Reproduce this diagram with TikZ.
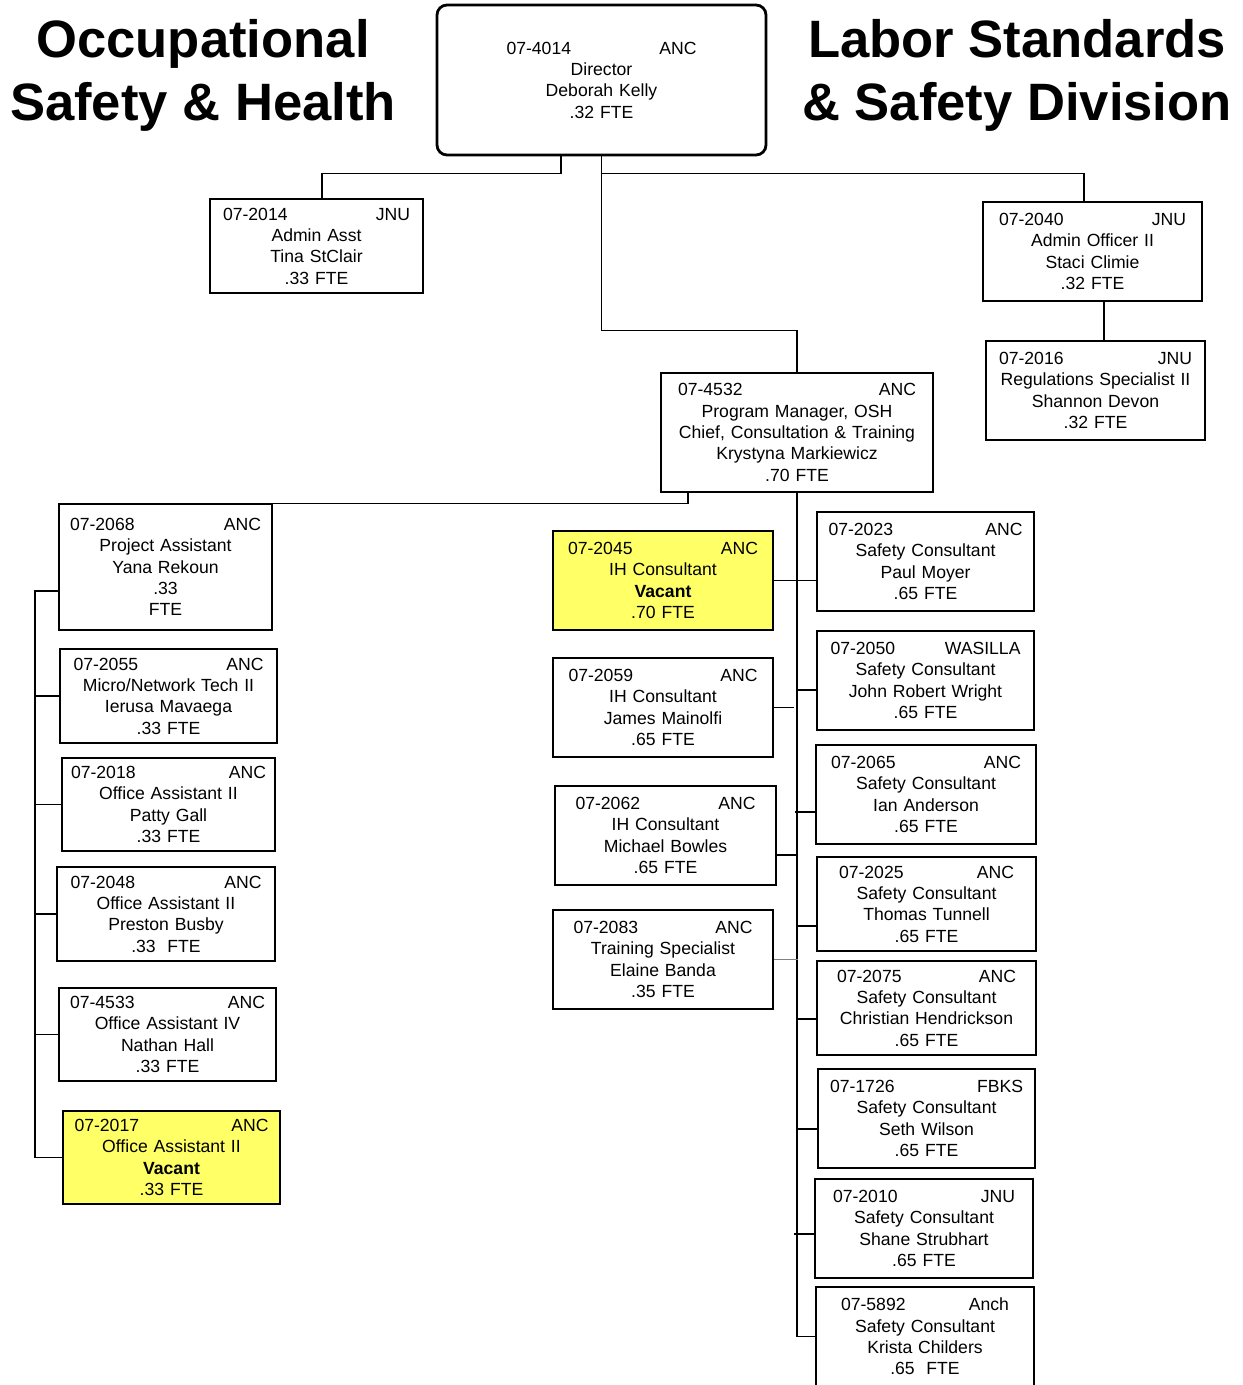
\documentclass[tikz,border=0pt]{standalone}
\usepackage{fontspec}
\setmainfont{Liberation Sans}
\usepackage{xcolor}
\usepackage{tikz}
\usetikzlibrary{positioning}
\definecolor{vacantyellow}{RGB}{255,255,102}

\begin{document}
\begin{tikzpicture}[
    x=0.5pt, y=-0.5pt,
    every node/.style={font=\fontsize{8.8}{10.65}\selectfont, align=center, inner sep=0pt},
    pos/.style n args={3}{draw, rectangle, line width=0.75pt, minimum width=#1pt, minimum height=#2pt, text width=#3pt},
    vacant/.style={fill=vacantyellow},
    title/.style={font=\fontsize{26.3}{31.5}\selectfont\bfseries},
    link/.style={line width=0.75pt}
]
    \useasboundingbox (0,0) rectangle (1242,1385);

    % Titles
    \node[title] (osh) at (203,75) {Occupational\\Safety \& Health};
    \node[title] (lss) at (1017,75) {Labor Standards\\\& Safety Division};

    % Nodes
    \node[pos={164.5}{75}{95}, rounded corners=5pt, line width=1.4pt] (dir) at (601.5,80) {07-4014\hfill ANC\\Director\\Deborah Kelly\\.32 FTE};
    \node[pos={106.5}{47}{93.5}] (asst) at (316.5,246) {07-2014\hfill JNU\\Admin Asst\\Tina StClair\\.33 FTE};
    \node[pos={109.5}{49.5}{93.5}] (officer) at (1092.5,251.5) {07-2040\hfill JNU\\Admin Officer II\\Staci Climie\\.32 FTE};
    \node[pos={109.5}{49.5}{96.5}] (regs) at (1095.5,390.5) {07-2016\hfill JNU\\Regulations Specialist II\\Shannon Devon\\.32 FTE};
    \node[pos={136}{59.5}{119}] (pm) at (797,432.5) {07-4532\hfill ANC\\Program Manager, OSH\\Chief, Consultation \& Training\\Krystyna Markiewicz\\.70 FTE};

    % left column
    \node[pos={106.5}{63}{95.5}] (b2068) at (165.5,567) {07-2068\hfill ANC\\Project Assistant\\Yana Rekoun\\.33\\FTE};
    \node[pos={108.5}{47}{95}] (b2055) at (168.5,696) {07-2055\hfill ANC\\Micro/Network Tech II\\Ierusa Mavaega\\.33 FTE};
    \node[pos={106.5}{46.5}{97.5}] (b2018) at (168.5,804.5) {07-2018\hfill ANC\\Office Assistant II\\Patty Gall\\.33 FTE};
    \node[pos={109}{47}{95.5}] (b2048) at (166,914) {07-2048\hfill ANC\\Office Assistant II\\Preston Busby\\.33\ \ FTE};
    \node[pos={108.5}{46.5}{97.5}] (b4533) at (167.5,1034.5) {07-4533\hfill ANC\\Office Assistant IV\\Nathan Hall\\.33 FTE};
    \node[pos={108.5}{46.5}{97}, vacant] (b2017) at (171.5,1157.5) {07-2017\hfill ANC\\Office Assistant II\\\textbf{Vacant}\\.33 FTE};

    % middle column
    \node[pos={110}{49.5}{95}, vacant] (b2045) at (663,580.5) {07-2045\hfill ANC\\IH Consultant\\\textbf{Vacant}\\.70 FTE};
    \node[pos={110}{49.5}{94.5}] (b2059) at (663,707.5) {07-2059\hfill ANC\\IH Consultant\\James Mainolfi\\.65 FTE};
    \node[pos={110.5}{49.5}{90}] (b2062) at (665.5,835.5) {07-2062\hfill ANC\\IH Consultant\\Michael Bowles\\.65 FTE};
    \node[pos={110}{49.5}{89.5}] (b2083) at (663,959.5) {07-2083\hfill ANC\\Training Specialist\\Elaine Banda\\.35 FTE};

    % right column
    \node[pos={108.5}{49.5}{97}] (b2023) at (925.5,561.5) {07-2023\hfill ANC\\Safety Consultant\\Paul Moyer\\.65 FTE};
    \node[pos={108.5}{49.5}{95}] (b2050) at (925.5,680.5) {07-2050\hfill WASILLA\\Safety Consultant\\John Robert Wright\\.65 FTE};
    \node[pos={110}{49.5}{95}] (b2065) at (926,794.5) {07-2065\hfill ANC\\Safety Consultant\\Ian Anderson\\.65 FTE};
    \node[pos={109.5}{47}{87.5}] (b2025) at (926.5,904) {07-2025\hfill ANC\\Safety Consultant\\Thomas Tunnell\\.65 FTE};
    \node[pos={109.5}{47}{89.5}] (b2075) at (926.5,1008) {07-2075\hfill ANC\\Safety Consultant\\Christian Hendrickson\\.65 FTE};
    \node[pos={108.5}{49.5}{96.5}] (b1726) at (926.5,1118.5) {07-1726\hfill FBKS\\Safety Consultant\\Seth Wilson\\.65 FTE};
    \node[pos={109}{49.5}{91}] (b2010) at (924,1228.5) {07-2010\hfill JNU\\Safety Consultant\\Shane Strubhart\\.65 FTE};
    \node[pos={109}{49.5}{84}] (b5892) at (925,1336.5) {07-5892\hfill Anch\\Safety Consultant\\Krista Childers\\.65\ \ FTE};

    % Lines
    \draw[link] ([xshift=-20.25pt]dir.south) -- ++(0,17) -| ([xshift=2.75pt]asst.north);
    \draw[link] (dir.south) -- ++(0,17) -| ([xshift=-4.25pt]officer.north);
    \draw[link] (dir.south) -- ++(0,174) -| (pm.north);
    \draw[link] ([xshift=5.75pt]officer.south) -- ++(0,40);
    \draw[link] ([xshift=-54.5pt]pm.south) |- (b2068.north);

    \coordinate (lbus) at (35,591);
    \draw[link] ([yshift=-12pt]b2068.west) -- (lbus) |- (b2017.west);
    \foreach \n in {b2055,b2018,b2048,b4533}
        \draw[link] (\n.west) -- (\n.west -| lbus);

    \draw[link] (pm.south) |- (b5892.west);
    \draw[link] (b2045.east) -- (b2045.east -| b2023.west);
    \foreach \n/\dy in {b2050/-4.75, b2065/-8.75, b2025/-11, b2075/-5.5, b1726/-5.25, b2010/-2.75}
        \draw[link] ([yshift=\dy pt]\n.west) -- ++(-20,0);
    \draw[link] (b2059.east) -- ++(20,0);
    \draw[link] ([yshift=-9.75pt]b2062.east) -- ++(21,0);
    \draw[gray, line width=0.5pt] (b2083.east) -- ++(24,0);
\end{tikzpicture}
\end{document}
